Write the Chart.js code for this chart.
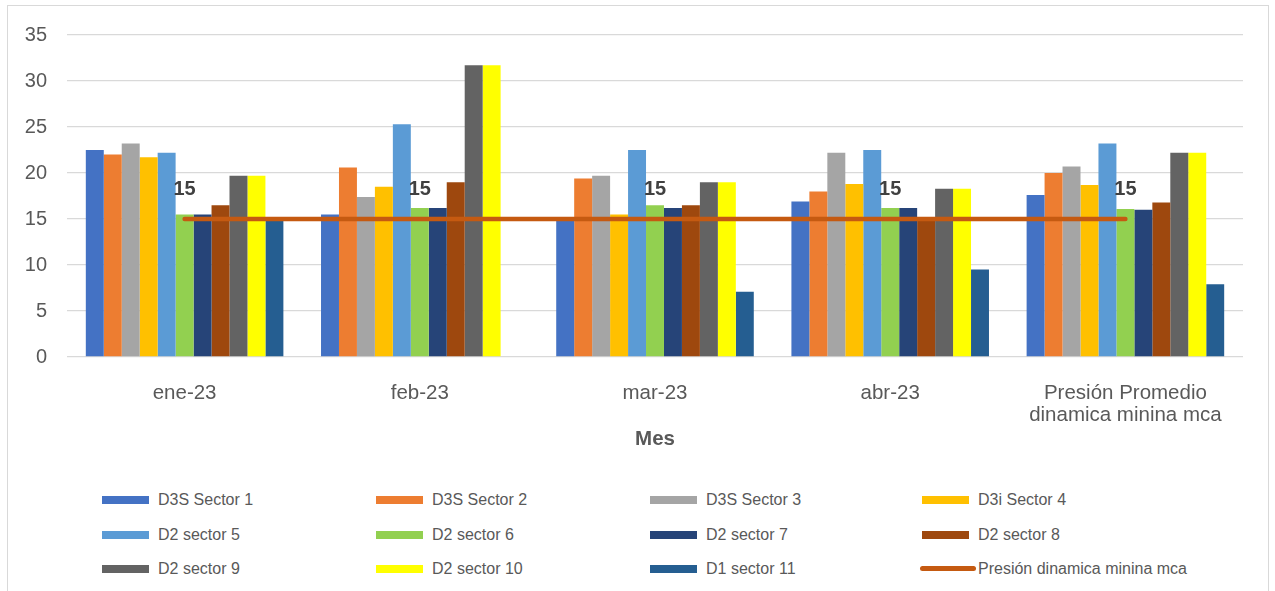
<!DOCTYPE html>
<html>
<head>
<meta charset="utf-8">
<script src="https://cdn.jsdelivr.net/npm/chart.js@4"></script>
<style>
	body { margin: 0; background: #fff; font-family: "Liberation Sans", Arial, sans-serif; }
	#frame { position: absolute; left: 7px; top: 5px; width: 1260px; height: 600px; border: 1px solid #d9d9d9; }
	#wrap { position: absolute; left: 0; top: 0; width: 1275px; height: 470px; }
	#legend { position: absolute; left: 0; top: 0; }
	.item { position: absolute; height: 20px; line-height: 20px; font-size: 16px; color: #595959; white-space: nowrap; }
	.item .sw { position: absolute; left: 0; top: 6px; width: 47px; height: 8px; }
	.item .ln { position: absolute; left: -2px; top: 7px; width: 56px; height: 5px; border-radius: 3px; }
	.item span.t { position: absolute; left: 56px; top: 0; }
</style>
</head>
<body>
<div id="frame"></div>
<div id="wrap"><canvas id="myChart" width="1275" height="470"></canvas></div>
<div id="legend"></div>
<script>
var meses = ['ene-23', 'feb-23', 'mar-23', 'abr-23', ['Presión Promedio', 'dinamica minina mca']];

var sector1 = [22.5, 15.5, 15.0, 16.9, 17.6];
var sector2 = [22.0, 20.6, 19.4, 18.0, 20.0];
var sector3 = [23.2, 17.4, 19.7, 22.2, 20.7];
var sector4 = [21.7, 18.5, 15.5, 18.8, 18.7];
var sector5 = [22.2, 25.3, 22.5, 22.5, 23.2];
var sector6 = [15.5, 16.2, 16.5, 16.2, 16.1];
var sector7 = [15.5, 16.2, 16.2, 16.2, 16.0];
var sector8 = [16.5, 19.0, 16.5, 15.0, 16.8];
var sector9 = [19.7, 31.7, 19.0, 18.3, 22.2];
var sector10 = [19.7, 31.7, 19.0, 18.3, 22.2];
var sector11 = [15.0, null, 7.1, 9.5, 7.9];
var presionMin = [15, 15, 15, 15, 15];

var yTicks = [0, 5, 10, 15, 20, 25, 30, 35];

function barra(label, data, color) {
	return {
		type: 'bar',
		label: label,
		data: data,
		backgroundColor: color,
		borderWidth: 0,
		order: 1
	};
}

var datasets = [
	barra('D3S Sector 1', sector1, '#4472C4'),
	barra('D3S Sector 2', sector2, '#ED7D31'),
	barra('D3S Sector 3', sector3, '#A5A5A5'),
	barra('D3i Sector 4', sector4, '#FFC000'),
	barra('D2 sector 5', sector5, '#5B9BD5'),
	barra('D2 sector 6', sector6, '#92D050'),
	barra('D2 sector 7', sector7, '#264478'),
	barra('D2 sector 8', sector8, '#9E480E'),
	barra('D2 sector 9', sector9, '#636363'),
	barra('D2 sector 10', sector10, '#FFFF00'),
	barra('D1 sector 11', sector11, '#255E91'),
	{
		type: 'line',
		label: 'Presión dinamica minina mca',
		data: presionMin,
		borderColor: '#C55A11',
		backgroundColor: '#C55A11',
		borderWidth: 4.5,
		borderCapStyle: 'round',
		pointRadius: 0,
		fill: false,
		order: 0
	}
];

// etiquetas "15" sobre la linea
var etiquetasLinea = {
	id: 'etiquetasLinea',
	afterDatasetsDraw: function(chart) {
		var ctx = chart.ctx;
		ctx.save();
		ctx.font = 'bold 20px "Liberation Sans", Arial, sans-serif';
		ctx.fillStyle = '#404040';
		ctx.textAlign = 'center';
		ctx.textBaseline = 'middle';
		chart.data.datasets.forEach(function(ds, i) {
			if (ds.type !== 'line') return;
			chart.getDatasetMeta(i).data.forEach(function(pt, j) {
				ctx.fillText(ds.data[j], pt.x, pt.y - 30);
			});
		});
		ctx.restore();
	}
};

var config = {
	data: { labels: meses, datasets: datasets },
	options: {
		responsive: false,
		animation: false,
		layout: { padding: { top: 35, right: 32, left: 0, bottom: 0 } },
		datasets: { bar: { categoryPercentage: 0.84, barPercentage: 1 } },
		plugins: { legend: { display: false }, tooltip: { enabled: false } },
		scales: {
			x: {
				grid: { display: false },
				border: { display: false },
				ticks: {
					color: '#595959',
					font: { family: '"Liberation Sans", Arial, sans-serif', size: 20.5, lineHeight: 1.08 },
					padding: 17,
					maxRotation: 0,
					autoSkip: false
				},
				title: {
					display: true,
					text: 'Mes',
					color: '#595959',
					font: { family: '"Liberation Sans", Arial, sans-serif', size: 20.5, weight: 'bold', lineHeight: 1.1 },
					padding: { top: 19, bottom: 19 }
				},
				afterFit: function(s) { s.height = 113; }
			},
			y: {
				min: 0,
				max: 35,
				afterBuildTicks: function(s) { s.ticks = yTicks.map(function(v) { return { value: v }; }); },
				grid: { color: '#D9D9D9', lineWidth: 1.3, drawTicks: false },
				border: { display: false },
				ticks: {
					color: '#595959',
					font: { family: '"Liberation Sans", Arial, sans-serif', size: 20 },
					padding: 20
				},
				afterFit: function(s) { s.width = 67; }
			}
		}
	},
	plugins: [etiquetasLinea]
};

var ctx = document.getElementById('myChart').getContext('2d');
window.myChart = new Chart(ctx, config);

// leyenda en 4 columnas
var colX = [102, 376, 650, 922];
var rowY = [500, 535, 569];
var legend = document.getElementById('legend');
datasets.forEach(function(ds, i) {
	var div = document.createElement('div');
	div.className = 'item';
	div.style.left = colX[i % 4] + 'px';
	div.style.top = (rowY[Math.floor(i / 4)] - 10) + 'px';
	var sw = document.createElement('div');
	sw.className = ds.type === 'line' ? 'ln' : 'sw';
	sw.style.background = ds.type === 'line' ? ds.borderColor : ds.backgroundColor;
	var t = document.createElement('span');
	t.className = 't';
	t.textContent = ds.label;
	div.appendChild(sw);
	div.appendChild(t);
	legend.appendChild(div);
});
</script>
</body>
</html>
